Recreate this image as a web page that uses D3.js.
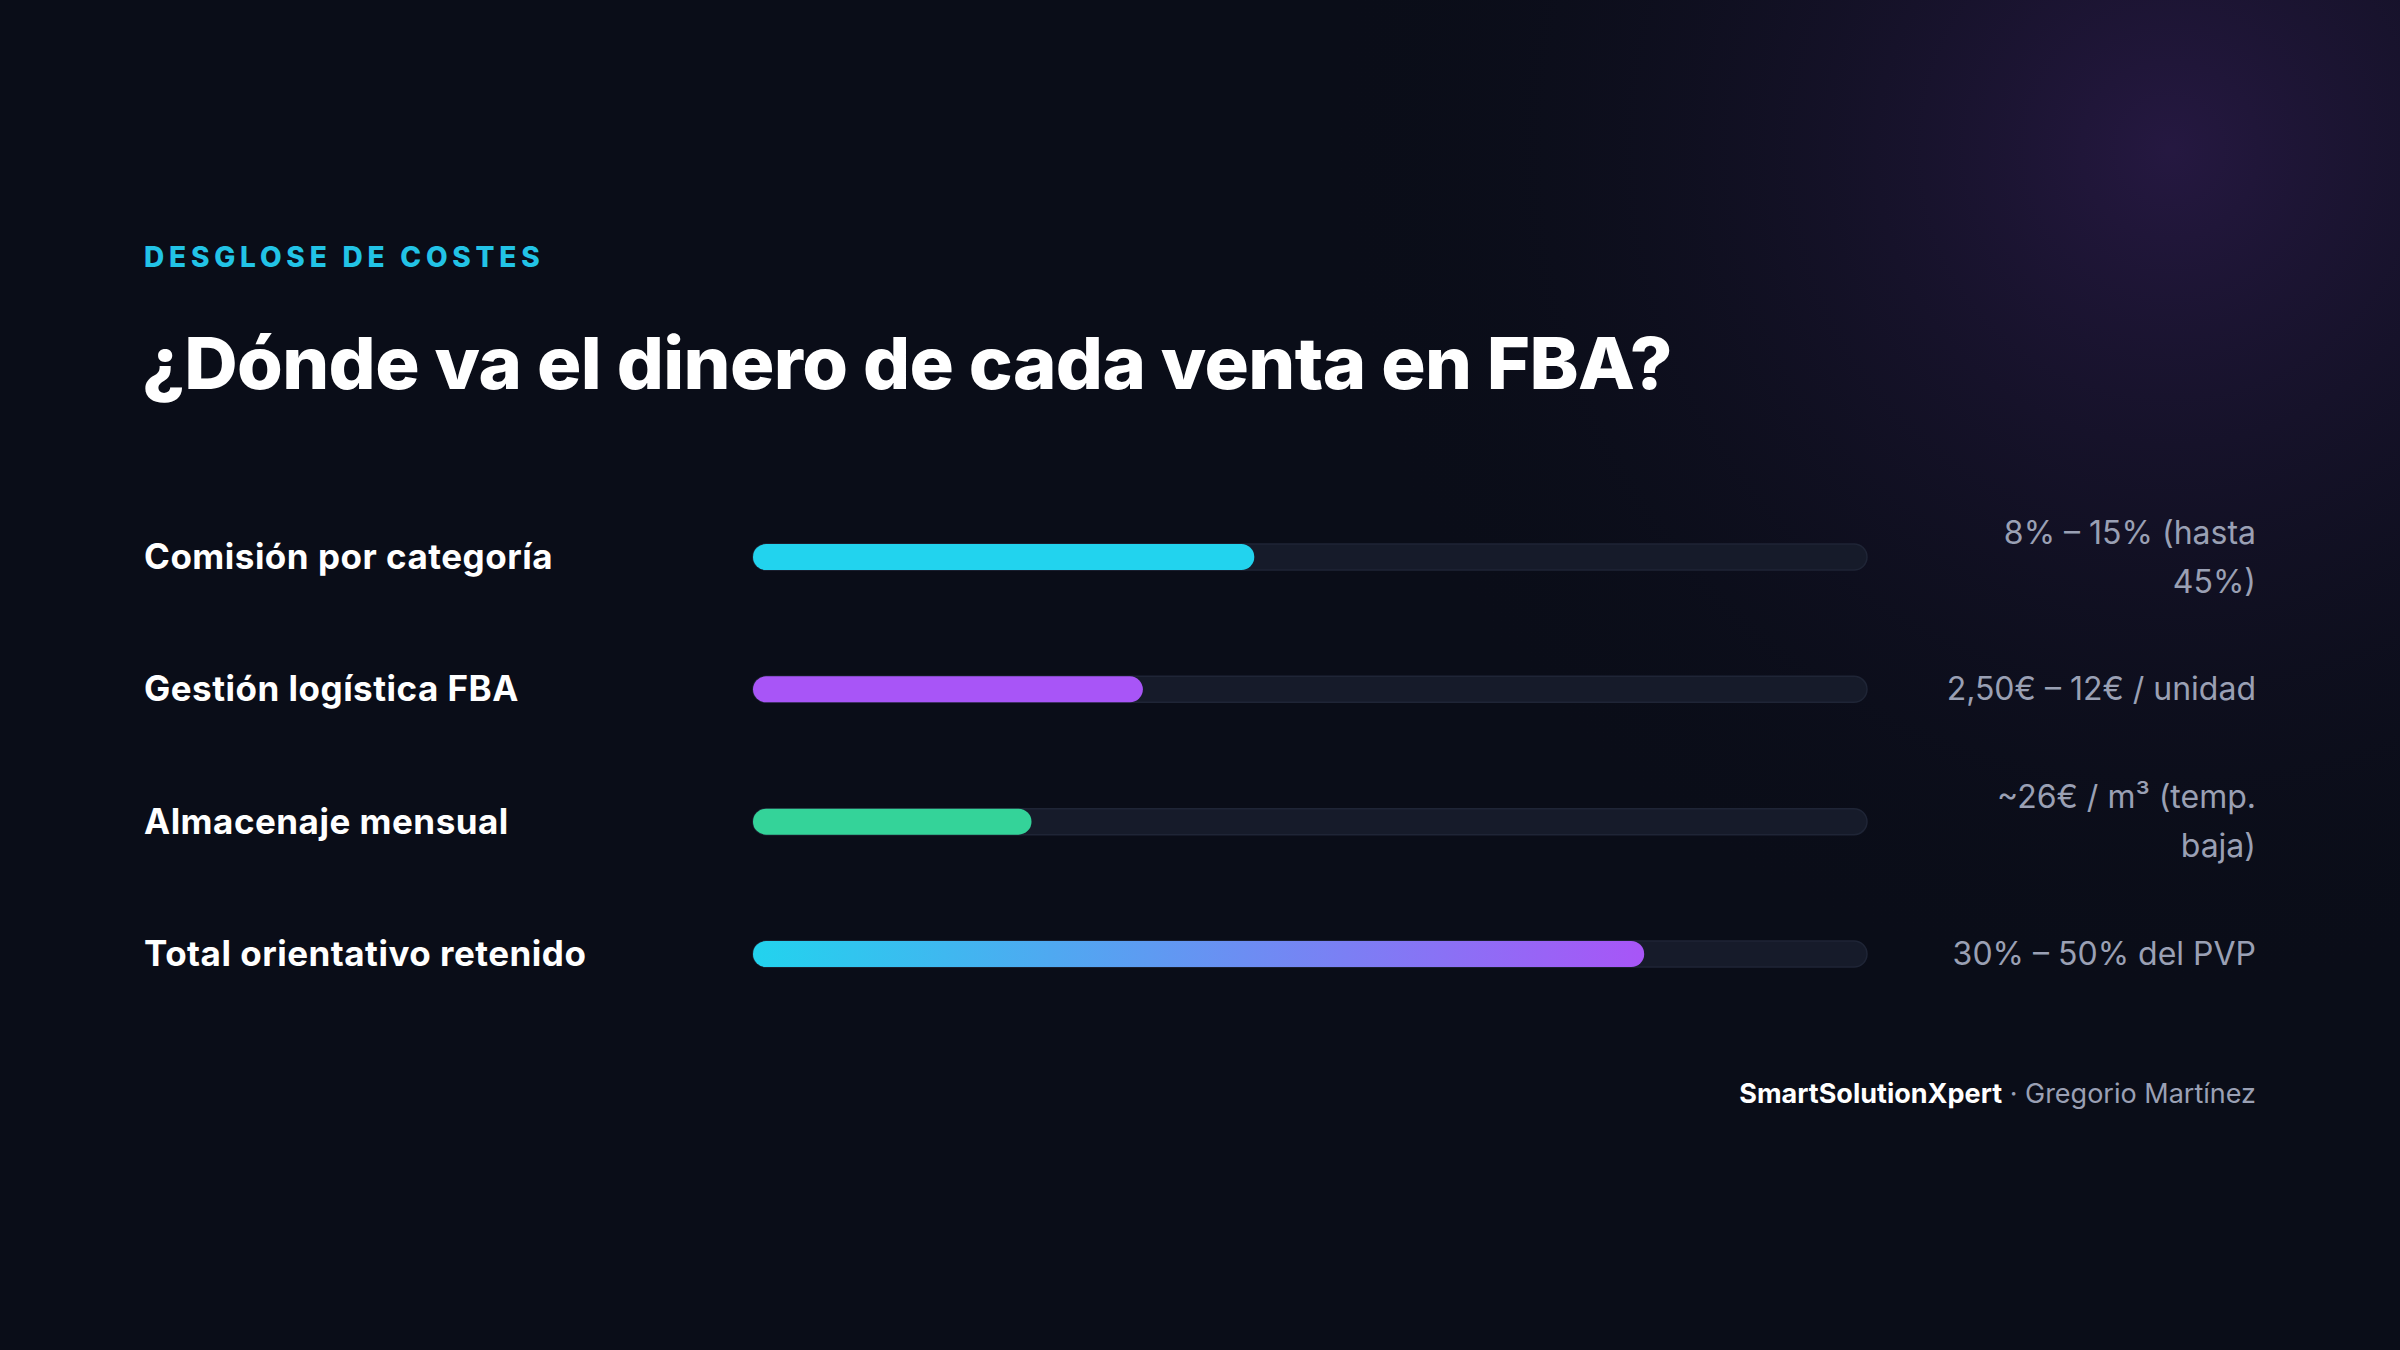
<!DOCTYPE html>
<html><head><meta charset="utf-8">
<script src="https://cdn.jsdelivr.net/npm/d3@7"></script>
<style>html,body{margin:0;padding:0;background:#0a0d18;}svg{display:block}</style>
</head><body>
<svg id="c" width="2400" height="1350"></svg>
<script>
const categories = ["Comisión por categoría","Gestión logística FBA","Almacenaje mensual","Total orientativo retenido"];
const values = [45, 35, 25, 80];
const valueLabels = [["8% – 15% (hasta","45%)"],["2,50€ – 12€ / unidad"],["~26€ / m³ (temp.","baja)"],["30% – 50% del PVP"]];
const colors = ["#22d3ee","#a855f7","#34d399","grad"];

const svg = d3.select("#c");
const defs = svg.append("defs");
const rg = defs.append("radialGradient").attr("id","glow").attr("cx",2170).attr("cy",150).attr("r",850).attr("gradientUnits","userSpaceOnUse");
rg.append("stop").attr("offset","0").attr("stop-color","#2a1a48").attr("stop-opacity",0.85);
rg.append("stop").attr("offset","0.5").attr("stop-color","#1a1430").attr("stop-opacity",0.45);
rg.append("stop").attr("offset","1").attr("stop-color","#0a0d18").attr("stop-opacity",0);
const lg = defs.append("linearGradient").attr("id","bargrad");
lg.append("stop").attr("offset","0").attr("stop-color","#22d3ee");
lg.append("stop").attr("offset","1").attr("stop-color","#a855f7");

svg.append("rect").attr("width",2400).attr("height",1350).attr("fill","#0a0d18");
svg.append("rect").attr("width",2400).attr("height",1350).attr("fill","url(#glow)");

const F = "Inter, 'Noto Sans', sans-serif";
svg.append("text").attr("x",144).attr("y",267).text("DESGLOSE DE COSTES")
  .attr("fill","#22c3e6").attr("font-family",F).attr("font-weight",800).attr("font-size",28).attr("letter-spacing",4.8);
svg.append("text").attr("x",142).attr("y",389).text("¿Dónde va el dinero de cada venta en FBA?")
  .attr("fill","#ffffff").attr("font-family",F).attr("font-weight",800).attr("font-size",72).attr("letter-spacing",-0.6)
  .attr("textLength",1530).attr("lengthAdjust","spacingAndGlyphs");

const x = d3.scaleLinear().domain([0,100]).range([753,1867]);
const y = d3.scalePoint().domain(categories).range([557,954]);
const bh = 26;

const g = svg.selectAll(".row").data(categories).enter().append("g");
g.append("text").attr("x",144).attr("y",d=>y(d)+12).text(d=>d)
  .attr("fill","#fff").attr("font-family",F).attr("font-weight",700).attr("font-size",35).attr("letter-spacing",0.5);
g.append("rect").attr("x",x(0)).attr("y",d=>y(d)-bh/2).attr("width",x(100)-x(0)).attr("height",bh).attr("rx",bh/2)
  .attr("fill","#161b2a").attr("stroke","#1f2536").attr("stroke-width",1.5);
g.append("rect").attr("x",x(0)).attr("y",d=>y(d)-bh/2).attr("width",(d,i)=>x(values[i])-x(0)).attr("height",bh).attr("rx",bh/2)
  .attr("fill",(d,i)=>colors[i]==="grad"?"url(#bargrad)":colors[i]);
g.each(function(d,i){
  const lines = valueLabels[i];
  const t = d3.select(this).append("text").attr("text-anchor","end").attr("fill","#9aa0b4")
    .attr("font-family",F).attr("font-size",32);
  const off = -(lines.length-1)*49/2;
  lines.forEach((l,j)=>t.append("tspan").attr("x",2256).attr("y",y(d)+off+j*49+11).text(l));
});

const ft = svg.append("text").attr("x",2256).attr("y",1103).attr("text-anchor","end").attr("font-family",F).attr("font-size",27);
ft.append("tspan").attr("fill","#fff").attr("font-weight",700).text("SmartSolutionXpert");
ft.append("tspan").attr("fill","#9aa0b4").text(" · Gregorio Martínez");
</script>
</body></html>
